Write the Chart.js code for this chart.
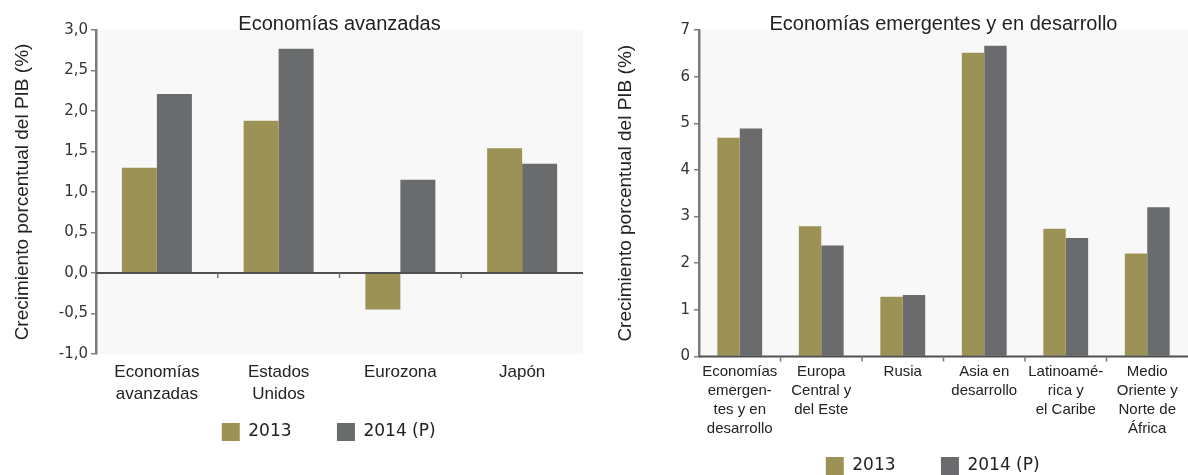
<!DOCTYPE html>
<html lang="es">
<head>
<meta charset="utf-8">
<title>Crecimiento del PIB</title>
<script src="https://cdn.jsdelivr.net/npm/chart.js@4.4.1/dist/chart.umd.min.js"></script>
<style>
  html, body { margin: 0; padding: 0; background: #fff; overflow: hidden; }
  #wrap { position: relative; width: 1188px; height: 475px; overflow: hidden; }
  canvas { position: absolute; top: 0; }
  #left { left: 0; }
  #right { left: 600px; }
</style>
</head>
<body>
<div id="wrap">
  <canvas id="left" width="600" height="475" style="width:600px;height:475px"></canvas>
  <canvas id="right" width="588" height="485" style="width:588px;height:485px"></canvas>
</div>
<script>
// Datos
const seriesNames = ['2013', '2014 (P)'];

const advCategories = [
    ['Economías', 'avanzadas'],
    ['Estados', 'Unidos'],
    ['Eurozona'],
    ['Japón']
];
const adv2013 = [1.30, 1.88, -0.45, 1.54];
const adv2014 = [2.21, 2.77, 1.15, 1.35];

const emCategories = [
    ['Economías', 'emergen-', 'tes y en', 'desarrollo'],
    ['Europa', 'Central y', 'del Este'],
    ['Rusia'],
    ['Asia en', 'desarrollo'],
    ['Latinoamé-', 'rica y', 'el Caribe'],
    ['Medio', 'Oriente y', 'Norte de', 'África']
];
const em2013 = [4.69, 2.79, 1.28, 6.51, 2.74, 2.21];
const em2014 = [4.89, 2.38, 1.32, 6.66, 2.54, 3.20];

const yTitle = 'Crecimiento porcentual del PIB (%)';

// Estilo
const gold = '#9c9256';
const grey = '#6a6b6d';
const ink = '#222222';
const sans = 'Liberation Sans, Arial, sans-serif';
const digits = 'DejaVu Sans, Verdana, sans-serif';

// Fondo del área de trazado y eje en cero con sus marcas
const plotDecor = {
    id: 'plotDecor',
    beforeDraw(chart) {
        const {ctx, chartArea: a} = chart;
        ctx.save();
        ctx.fillStyle = '#f8f8f8';
        ctx.fillRect(a.left, a.top, a.right - a.left, a.bottom - a.top);
        ctx.restore();
    },
    afterDatasetsDraw(chart) {
        const {ctx, chartArea: a, scales: {x, y}} = chart;
        const y0 = y.getPixelForValue(0);
        ctx.save();
        ctx.strokeStyle = '#505050';
        ctx.lineWidth = 2;
        ctx.beginPath();
        ctx.moveTo(a.left, y0);
        ctx.lineTo(a.right, y0);
        ctx.stroke();
        ctx.strokeStyle = '#777';
        ctx.lineWidth = 1.5;
        for (let i = 0; i < x.ticks.length - 1; i++) {
            const px = (x.getPixelForTick(i) + x.getPixelForTick(i + 1)) / 2;
            ctx.beginPath();
            ctx.moveTo(px, y0);
            ctx.lineTo(px, y0 + 5);
            ctx.stroke();
        }
        ctx.restore();
    }
};

// espacios al final de cada entrada para separar y centrar la leyenda
function legendLabels(gaps) {
    return function (chart) {
        const items = Chart.defaults.plugins.legend.labels.generateLabels(chart);
        items.forEach((it, i) => { it.text += ' '.repeat(gaps[i]); });
        return items;
    };
}

function makeChart(id, cfg) {
    return new Chart(document.getElementById(id), {
        type: 'bar',
        data: {
            labels: cfg.labels,
            datasets: [
                { label: seriesNames[0], data: cfg.a, backgroundColor: gold,
                  categoryPercentage: cfg.catPct, barPercentage: 1.0 },
                { label: seriesNames[1], data: cfg.b, backgroundColor: grey,
                  categoryPercentage: cfg.catPct, barPercentage: 1.0 }
            ]
        },
        plugins: [plotDecor],
        options: {
            responsive: false,
            animation: false,
            devicePixelRatio: 1,
            layout: { padding: cfg.padding },
            plugins: {
                title: {
                    display: true,
                    text: cfg.title,
                    fullSize: false,
                    color: ink,
                    font: { family: sans, size: 20, weight: 'normal', lineHeight: 0.6 },
                    padding: { top: 18, bottom: 0 }
                },
                legend: {
                    position: 'bottom',
                    fullSize: false,
                    labels: {
                        boxWidth: 18,
                        boxHeight: 18,
                        padding: 13,
                        color: ink,
                        font: { family: digits, size: 17 },
                        generateLabels: legendLabels(cfg.legendGaps)
                    }
                },
                tooltip: { enabled: false }
            },
            scales: {
                x: {
                    grid: { display: false, drawTicks: false },
                    border: { display: false },
                    ticks: {
                        autoSkip: false,
                        maxRotation: 0,
                        minRotation: 0,
                        padding: cfg.xPad,
                        color: ink,
                        font: { family: sans, size: cfg.xFont, lineHeight: cfg.xLine }
                    },
                    afterFit(s) { s.height = cfg.xHeight; }
                },
                y: {
                    min: cfg.min,
                    max: cfg.max,
                    grid: { drawOnChartArea: false, drawTicks: true, tickLength: 5,
                            color: '#808080', lineWidth: 1.5 },
                    border: { display: true, color: '#7c7c7c', width: 2.5 },
                    ticks: {
                        stepSize: cfg.step,
                        padding: cfg.yPad,
                        color: '#333',
                        font: { family: digits, size: 15 },
                        callback: cfg.fmt
                    },
                    title: {
                        display: true,
                        text: yTitle,
                        color: ink,
                        font: { family: sans, size: 19 },
                        padding: { top: cfg.yTitlePad, bottom: 0 }
                    },
                    afterFit(s) { s.width = cfg.yWidth; }
                }
            }
        }
    });
}

makeChart('left', {
    title: 'Economías avanzadas',
    labels: advCategories, a: adv2013, b: adv2014,
    catPct: 0.575,
    padding: { left: 8, right: 17, top: 0, bottom: 24 },
    xPad: 7, xFont: 17, xLine: 22 / 17, xHeight: 56,
    legendGaps: [6, 4],
    min: -1, max: 3, step: 0.5, yPad: 3,
    fmt: v => v.toFixed(1).replace('.', ','),
    yTitlePad: 3.1, yWidth: 88
});

makeChart('right', {
    title: 'Economías emergentes y en desarrollo',
    labels: emCategories, a: em2013, b: em2014,
    catPct: 0.55,
    padding: { left: 5, right: 0, top: 0, bottom: 0 },
    xPad: 5.5, xFont: 15, xLine: 19 / 15, xHeight: 87.5,
    legendGaps: [6, 4],
    min: 0, max: 7, step: 1, yPad: 4,
    fmt: v => String(v),
    yTitlePad: 9.1, yWidth: 94
});
</script>
</body>
</html>
